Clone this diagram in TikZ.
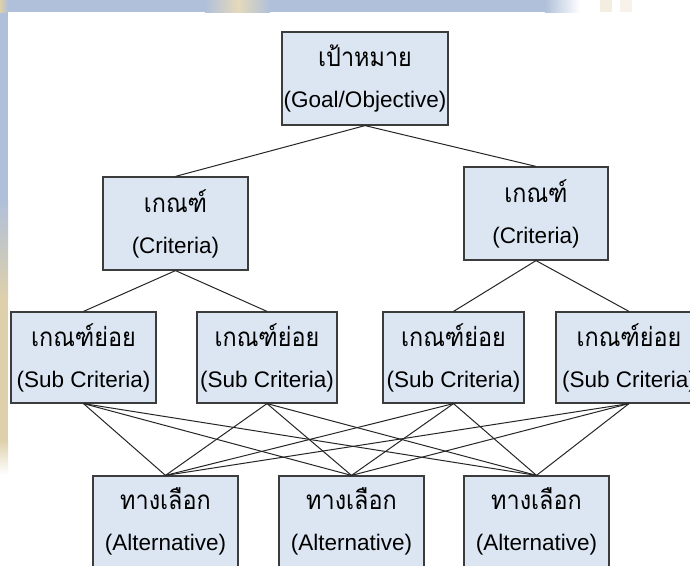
\documentclass[tikz,border=0pt]{standalone}
\usepackage{fontspec}
\setmainfont{Liberation Sans}
\newfontfamily\thaifont[Script=Thai, FakeStretch=0.9]{Loma}

\definecolor{boxfill}{RGB}{220,230,242}
\definecolor{boxline}{RGB}{60,60,60}
\definecolor{wmblue}{RGB}{176,192,218}
\definecolor{wmtan}{RGB}{222,208,170}

\newcommand{\thline}[1]{{\thaifont\fontsize{26}{41}\selectfont #1}}

\begin{document}
\begin{tikzpicture}[x=1pt,y=-1pt,
  box/.style={draw=boxline, fill=boxfill, line width=1.2pt,
    minimum width=145pt, minimum height=91pt, align=center, inner sep=0pt,
    font=\fontsize{22.5}{41}\selectfont},
  link/.style={line width=1pt, draw=black!85}]

\useasboundingbox (0,0) rectangle (690,565);
\clip (0,0) rectangle (690,565);

% page background with faded watermark edges
\fill[white] (0,0) rectangle (690,565);
\fill[wmblue] (0,0) rectangle (545,12);
\shade[left color=wmblue, right color=white] (545,0) rectangle (580,12);
\shade[left color=wmblue, right color=wmtan!80] (205,0) rectangle (238,12);
\shade[left color=wmtan!80, right color=wmblue] (238,0) rectangle (270,12);
\fill[wmtan!35] (600,0) rectangle (612,12);
\fill[wmtan!25] (620,0) rectangle (632,12);
\fill[wmblue] (0,12) rectangle (8,200);
\shade[top color=wmblue, bottom color=wmtan] (0,200) rectangle (8,300);
\fill[wmtan] (0,300) rectangle (8,440);
\shade[top color=wmtan, bottom color=white] (0,440) rectangle (8,475);
\shade[left color=wmtan, right color=wmblue] (0,0) rectangle (8,12);

% boxes
\node[box, minimum width=166pt, minimum height=93pt] (goal) at (365,78.5)
  {\thline{เป้าหมาย}\\(Goal/Objective)};
\node[box, minimum height=93pt] (crit1) at (175.5,223.5)
  {\thline{เกณฑ์}\\(Criteria)};
\node[box, minimum width=144pt, minimum height=93pt] (crit2) at (536,213.5)
  {\thline{เกณฑ์}\\(Criteria)};

\node[box] (sub1) at (83.5,357.5) {\thline{เกณฑ์ย่อย}\\(Sub Criteria)};
\node[box, minimum width=140pt] (sub2) at (267,357.5) {\thline{เกณฑ์ย่อย}\\(Sub Criteria)};
\node[box, minimum width=141pt] (sub3) at (453.5,357.5) {\thline{เกณฑ์ย่อย}\\(Sub Criteria)};
\node[box, minimum width=146pt] (sub4) at (629,357.5) {\thline{เกณฑ์ย่อย}\\(Sub Criteria)};

\node[box] (alt1) at (165.5,521.5) {\thline{ทางเลือก}\\(Alternative)};
\node[box] (alt2) at (351.5,521.5) {\thline{ทางเลือก}\\(Alternative)};
\node[box] (alt3) at (536.5,521.5) {\thline{ทางเลือก}\\(Alternative)};

% hierarchy links
\draw[link] (goal.south) -- (crit1.north);
\draw[link] (goal.south) -- (crit2.north);
\draw[link] (crit1.south) -- (sub1.north);
\draw[link] (crit1.south) -- (sub2.north);
\draw[link] (crit2.south) -- (sub3.north);
\draw[link] (crit2.south) -- (sub4.north);
\foreach \s in {sub1,sub2,sub3,sub4}
  \foreach \a in {alt1,alt2,alt3}
    \draw[link] (\s.south) -- (\a.north);
\end{tikzpicture}
\end{document}
